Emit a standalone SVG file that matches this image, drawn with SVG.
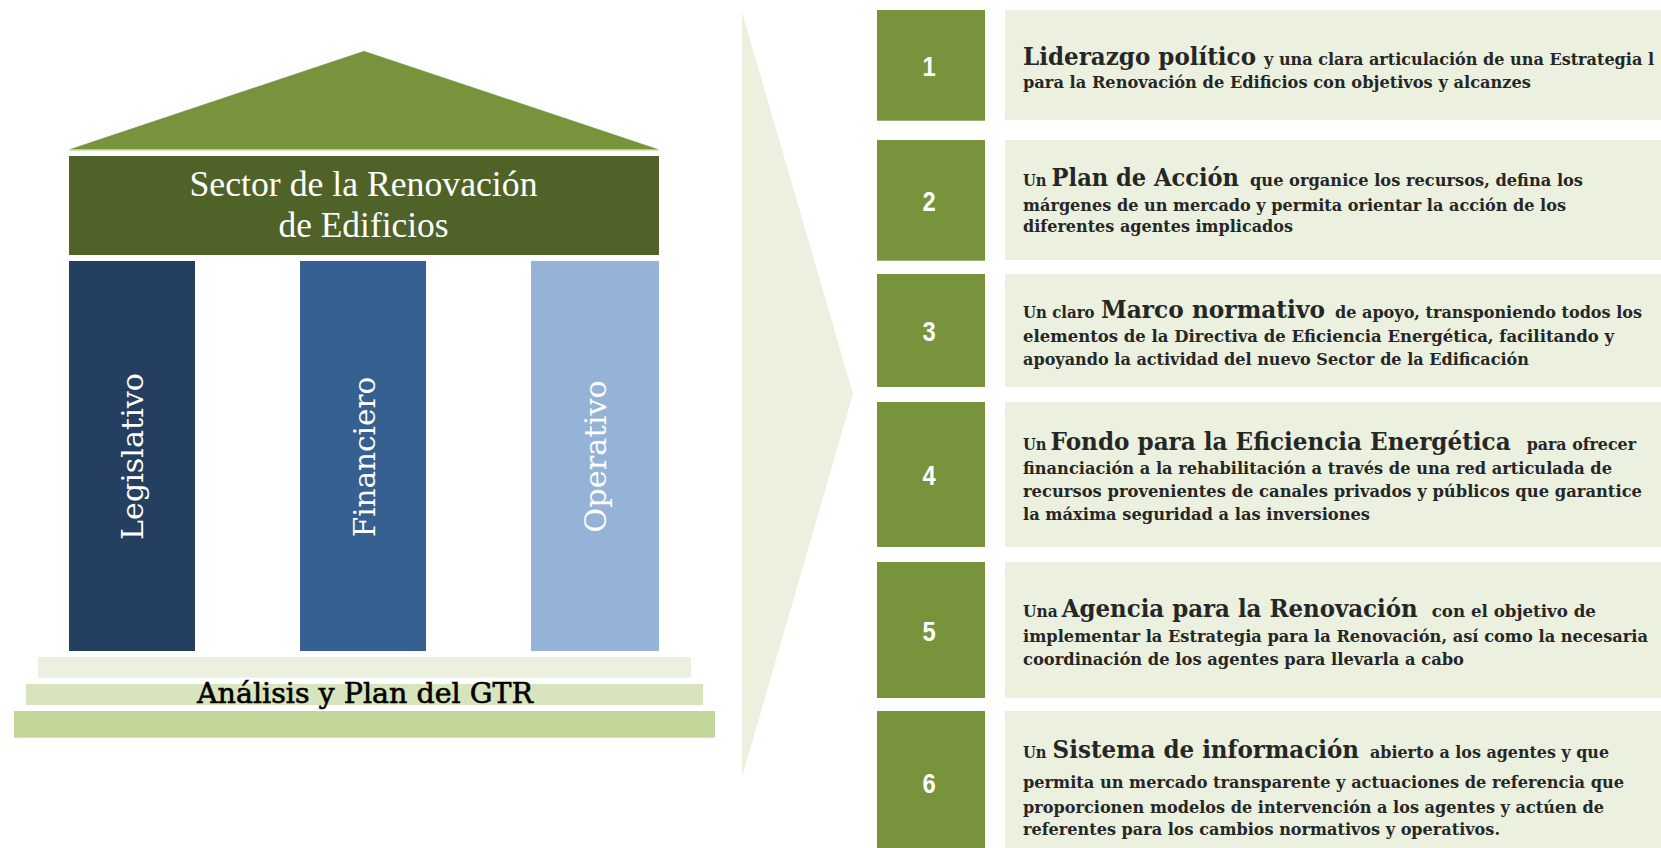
<svg xmlns="http://www.w3.org/2000/svg" width="1661" height="848" viewBox="0 0 1661 848">
<style>
.num{fill:#77933C}
.box{fill:#EBF1DE}
.n{font-family:"Liberation Sans Narrow","Liberation Sans",Arial,sans-serif;font-weight:bold;font-size:28px;fill:#FFFFFF;text-anchor:middle}
.t{font-family:"DejaVu Serif","Liberation Serif",serif;font-weight:bold;font-size:16px;fill:#262626}
.b{font-family:"DejaVu Serif","Liberation Serif",serif;font-weight:bold;font-size:24px;fill:#262626}
.pil{font-family:"DejaVu Serif","Liberation Serif",serif;font-size:30px;fill:#FFFFFF;text-anchor:middle}
.ent{font-family:"Liberation Serif","DejaVu Serif",serif;font-size:36px;fill:#FFFFFF;text-anchor:middle}
</style>
<rect width="1661" height="848" fill="#FFFFFF"/>

<g id="connectors">
  <polygon points="742,12 853,394 742,777" fill="#EBF1DE"/>
</g>

<g id="roof">
  <polygon points="364,51 659,149.5 69,149.5" fill="#77933C"/>
  <line x1="69" y1="150.5" x2="659" y2="150.5" stroke="#D7E4BD" stroke-width="1"/>
</g>
<g id="entablature">
  <rect x="69" y="156" width="590" height="99" fill="#4F6228"/>
  <text class="ent" x="363.5" y="196" textLength="348" lengthAdjust="spacingAndGlyphs">Sector de la Renovación</text>
  <text class="ent" x="363.5" y="236.5" textLength="170" lengthAdjust="spacingAndGlyphs">de Edificios</text>
</g>
<g id="pillar-legislativo">
  <rect x="69" y="261" width="126" height="390" fill="#243F60"/>
  <text class="pil" transform="translate(143.4,456.5) rotate(-90)" textLength="167" lengthAdjust="spacingAndGlyphs">Legislativo</text>
</g>
<g id="pillar-financiero">
  <rect x="300" y="261" width="126" height="390" fill="#366092"/>
  <text class="pil" transform="translate(374.6,457) rotate(-90)" textLength="160.6" lengthAdjust="spacingAndGlyphs">Financiero</text>
</g>
<g id="pillar-operativo">
  <rect x="531" y="261" width="128" height="390" fill="#95B3D7"/>
  <text class="pil" transform="translate(606,456.4) rotate(-90)" textLength="152.7" lengthAdjust="spacingAndGlyphs">Operativo</text>
</g>
<g id="base">
  <rect x="38" y="657" width="653" height="20.7" fill="#EBF1DE"/>
  <rect x="26" y="684" width="677" height="21" fill="#D7E4BD"/>
  <rect x="14" y="711" width="701" height="26.7" fill="#C4D79B"/>
  <text x="365" y="702.7" textLength="336" lengthAdjust="spacingAndGlyphs" stroke="#000000" stroke-width="0.6" style="font-family:'DejaVu Serif','Liberation Serif',serif;font-size:28px;fill:#000000;text-anchor:middle">Análisis y Plan del GTR</text>
</g>

<g id="item-1">
  <rect class="num" x="877" y="10" width="108" height="110.7"/>
  <text class="n" transform="translate(929,76) scale(0.85,1)">1</text>
  <rect class="box" x="1005" y="10" width="700" height="110"/>
  <text class="b" x="1023" y="65" font-size="23" textLength="233" lengthAdjust="spacingAndGlyphs">Liderazgo político</text>
  <text class="t" x="1264" y="65" textLength="390" lengthAdjust="spacingAndGlyphs">y una clara articulación de una Estrategia l</text>
  <text class="t" x="1023" y="88" textLength="508" lengthAdjust="spacingAndGlyphs">para la Renovación de Edificios con objetivos y alcanzes</text>
</g>
<g id="item-2">
  <rect class="num" x="877" y="140" width="108" height="120.7"/>
  <text class="n" transform="translate(929,210.5) scale(0.85,1)">2</text>
  <rect class="box" x="1005" y="140" width="700" height="120"/>
  <text class="t" x="1023" y="185.7" textLength="23.6" lengthAdjust="spacingAndGlyphs">Un</text>
  <text class="b" x="1051.6" y="185.7" font-size="22" textLength="187.4" lengthAdjust="spacingAndGlyphs">Plan de Acción</text>
  <text class="t" x="1250" y="185.7" textLength="333" lengthAdjust="spacingAndGlyphs">que organice los recursos, defina los</text>
  <text class="t" x="1023" y="210.7" textLength="543" lengthAdjust="spacingAndGlyphs">márgenes de un mercado y permita orientar la acción de los</text>
  <text class="t" x="1023" y="232.3" textLength="270" lengthAdjust="spacingAndGlyphs">diferentes agentes implicados</text>
</g>
<g id="item-3">
  <rect class="num" x="877" y="274" width="108" height="113"/>
  <text class="n" transform="translate(929,341) scale(0.85,1)">3</text>
  <rect class="box" x="1005" y="274" width="700" height="113"/>
  <text class="t" x="1023" y="318.3" textLength="71.5" lengthAdjust="spacingAndGlyphs">Un claro</text>
  <text class="b" x="1101" y="318.3" font-size="24" textLength="224" lengthAdjust="spacingAndGlyphs">Marco normativo</text>
  <text class="t" x="1335" y="318.3" textLength="307" lengthAdjust="spacingAndGlyphs">de apoyo, transponiendo todos los</text>
  <text class="t" x="1023" y="342" textLength="591" lengthAdjust="spacingAndGlyphs">elementos de la Directiva de Eficiencia Energética, facilitando y</text>
  <text class="t" x="1023" y="365" textLength="506" lengthAdjust="spacingAndGlyphs">apoyando la actividad del nuevo Sector de la Edificación</text>
</g>
<g id="item-4">
  <rect class="num" x="877" y="402" width="108" height="145"/>
  <text class="n" transform="translate(929,485) scale(0.85,1)">4</text>
  <rect class="box" x="1005" y="402" width="700" height="145"/>
  <text class="t" x="1023" y="450" textLength="23.6" lengthAdjust="spacingAndGlyphs">Un</text>
  <text class="b" x="1050.6" y="450" font-size="25" textLength="460" lengthAdjust="spacingAndGlyphs">Fondo para la Eficiencia Energética</text>
  <text class="t" x="1526.7" y="450" textLength="109.3" lengthAdjust="spacingAndGlyphs">para ofrecer</text>
  <text class="t" x="1023" y="474.3" textLength="589" lengthAdjust="spacingAndGlyphs">financiación a la rehabilitación a través de una red articulada de</text>
  <text class="t" x="1023" y="496.7" textLength="619" lengthAdjust="spacingAndGlyphs">recursos provenientes de canales privados y públicos que garantice</text>
  <text class="t" x="1023" y="520" textLength="347" lengthAdjust="spacingAndGlyphs">la máxima seguridad a las inversiones</text>
</g>
<g id="item-5">
  <rect class="num" x="877" y="562" width="108" height="136"/>
  <text class="n" transform="translate(929,640.5) scale(0.85,1)">5</text>
  <rect class="box" x="1005" y="562" width="700" height="136"/>
  <text class="t" x="1023" y="617.3" textLength="34.7" lengthAdjust="spacingAndGlyphs">Una</text>
  <text class="b" x="1061.7" y="617.3" font-size="25" textLength="356" lengthAdjust="spacingAndGlyphs">Agencia para la Renovación</text>
  <text class="t" x="1431.7" y="617.3" textLength="164.3" lengthAdjust="spacingAndGlyphs">con el objetivo de</text>
  <text class="t" x="1023" y="642.3" textLength="625" lengthAdjust="spacingAndGlyphs">implementar la Estrategia para la Renovación, así como la necesaria</text>
  <text class="t" x="1023" y="665" textLength="441" lengthAdjust="spacingAndGlyphs">coordinación de los agentes para llevarla a cabo</text>
</g>
<g id="item-6">
  <rect class="num" x="877" y="711" width="108" height="144"/>
  <text class="n" transform="translate(929,793) scale(0.85,1)">6</text>
  <rect class="box" x="1005" y="711" width="700" height="144"/>
  <text class="t" x="1023" y="758.3" textLength="23.6" lengthAdjust="spacingAndGlyphs">Un</text>
  <text class="b" x="1052.6" y="758.3" font-size="24" textLength="306.4" lengthAdjust="spacingAndGlyphs">Sistema de información</text>
  <text class="t" x="1370" y="758.3" textLength="239" lengthAdjust="spacingAndGlyphs">abierto a los agentes y que</text>
  <text class="t" x="1023" y="788.3" textLength="601" lengthAdjust="spacingAndGlyphs">permita un mercado transparente y actuaciones de referencia que</text>
  <text class="t" x="1023" y="812.7" textLength="581" lengthAdjust="spacingAndGlyphs">proporcionen modelos de intervención a los agentes y actúen de</text>
  <text class="t" x="1023" y="835" textLength="477" lengthAdjust="spacingAndGlyphs">referentes para los cambios normativos y operativos.</text>
</g>
</svg>
